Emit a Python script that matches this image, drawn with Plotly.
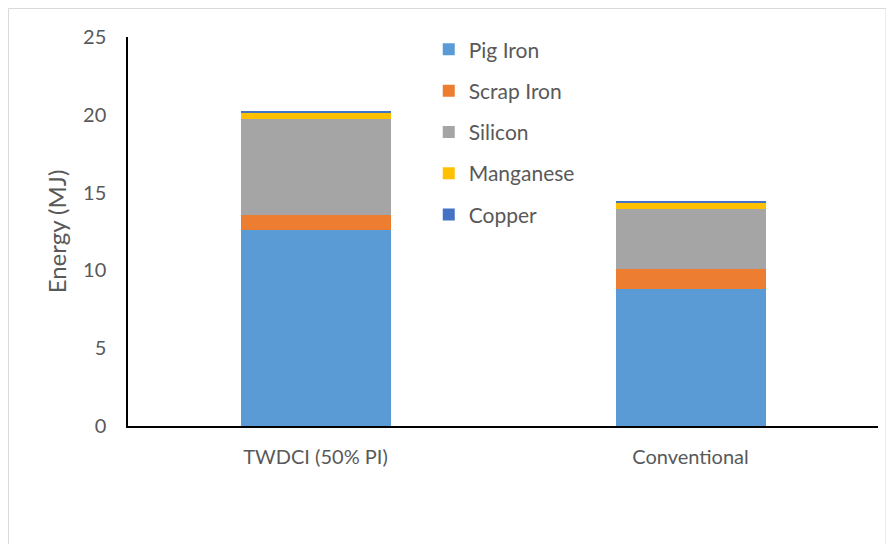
import plotly.graph_objects as go

categories = ["TWDCI (50% PI)", "Conventional"]
pig_iron = [12.6, 8.78]
scrap_iron = [0.96, 1.33]
silicon = [6.15, 3.86]
manganese = [0.43, 0.39]
copper = [0.05, 0.08]

series = [
    ("Pig Iron", pig_iron, "#5B9BD5"),
    ("Scrap Iron", scrap_iron, "#ED7D31"),
    ("Silicon", silicon, "#A5A5A5"),
    ("Manganese", manganese, "#FFC000"),
    ("Copper", copper, "#4472C4"),
]

fig = go.Figure()
for name, vals, color in series:
    fig.add_trace(go.Bar(
        x=categories, y=vals, name=name, legendgroup=name,
        marker=dict(color=color, line=dict(width=0)),
        width=0.4,
    ))

font_family = "Lato, Open Sans, sans-serif"
fig.update_layout(
    barmode="stack",
    width=894, height=544,
    plot_bgcolor="white",
    paper_bgcolor="white",
    margin=dict(l=120, r=24, t=29, b=126),
    font=dict(family=font_family, size=20, color="#595959"),
    showlegend=True,
    legend=dict(
        x=0.401, y=1.02, xanchor="left", yanchor="top",
        traceorder="grouped", tracegroupgap=11,
        font=dict(size=21, color="#595959"),
        bgcolor="rgba(0,0,0,0)",
    ),
    xaxis=dict(
        showline=True, linecolor="black", linewidth=1.5,
        ticks="", showgrid=False, ticklabelstandoff=12,
        tickfont=dict(size=20, color="#595959"),
    ),
    yaxis=dict(
        range=[0, 25], dtick=5,
        showline=True, linecolor="black", linewidth=1.5,
        showgrid=False, zeroline=False, ticks="", ticklabelstandoff=16,
        title=dict(text="Energy (MJ)", font=dict(size=24, color="#595959"), standoff=10),
        tickfont=dict(size=20, color="#595959"),
    ),
    shapes=[dict(
        type="rect", xref="paper", yref="paper",
        x0=-0.1593, x1=1.0107, y0=-0.5, y1=1.0733,
        line=dict(color="#D9D9D9", width=1),
    )],
)

fig.write_html("out.html")
